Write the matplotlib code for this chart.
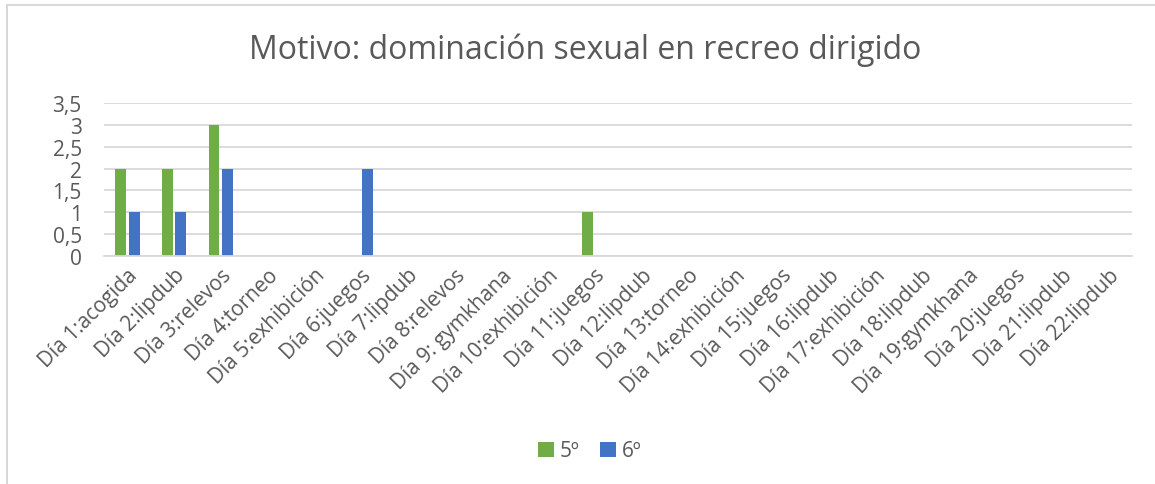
import numpy as np
import matplotlib.pyplot as plt
from matplotlib.patches import Rectangle

plt.rcParams['font.family'] = ['Open Sans', 'DejaVu Sans']

# Datos
dias = ["Día 1:acogida", "Día 2:lipdub", "Día 3:relevos", "Día 4:torneo",
        "Día 5:exhibición", "Día 6:juegos", "Día 7:lipdub", "Día 8:relevos",
        "Día 9: gymkhana", "Día 10:exhibición", "Día 11:juegos", "Día 12:lipdub",
        "Día 13:torneo", "Día 14:exhibición", "Día 15:juegos", "Día 16:lipdub",
        "Día 17:exhibición", "Día 18:lipdub", "Día 19:gymkhana", "Día 20:juegos",
        "Día 21:lipdub", "Día 22:lipdub"]
quinto = [2, 2, 3, 0, 0, 0, 0, 0, 0, 0, 1, 0, 0, 0, 0, 0, 0, 0, 0, 0, 0, 0]
sexto = [1, 1, 2, 0, 0, 2, 0, 0, 0, 0, 0, 0, 0, 0, 0, 0, 0, 0, 0, 0, 0, 0]
ticks_y = [0, 0.5, 1, 1.5, 2, 2.5, 3, 3.5]
etiquetas_y = ["0", "0,5", "1", "1,5", "2", "2,5", "3", "3,5"]

verde = '#70AD47'
azul = '#4472C4'
gris_texto = '#595959'

fig = plt.figure(figsize=(11.55, 4.85), dpi=100)
ax = fig.add_axes([104 / 1155, 1 - 257 / 485, (1132 - 104) / 1155, (257 - 104) / 485])

x = np.arange(len(dias))
ancho = 0.23
ax.bar(x - 0.145, quinto, ancho, color=verde, label="5º", zorder=2)
ax.bar(x + 0.145, sexto, ancho, color=azul, label="6º", zorder=2)

ax.set_xlim(-0.5, len(dias) - 0.5)
ax.set_ylim(0, 3.5)
ax.set_yticks(ticks_y)
ax.set_yticklabels(etiquetas_y)
ax.set_xticks(x)
ax.set_xticklabels(dias, rotation=45, ha='right', rotation_mode='anchor')
ax.tick_params(axis='both', length=0, labelsize=15, colors=gris_texto)
ax.tick_params(axis='x', pad=6)
ax.tick_params(axis='y', pad=16)
ax.grid(axis='y', color='#D9D9D9', linewidth=1.3, zorder=0)
for s in ['top', 'right', 'left']:
    ax.spines[s].set_visible(False)
ax.spines['bottom'].set_color('#D9D9D9')
ax.spines['bottom'].set_linewidth(1.3)

fig.text(585 / 1155, 1 - 50 / 485, "Motivo: dominación sexual en recreo dirigido",
         ha='center', va='center', fontsize=23, color=gris_texto)

fig.legend(loc='center', bbox_to_anchor=(590 / 1155, 1 - 452 / 485), ncol=2,
           frameon=False, fontsize=15, handlelength=0.75, handleheight=0.75,
           handletextpad=0.3, columnspacing=1.0, labelcolor=gris_texto)

# marco del gráfico
fig.patches.append(Rectangle((7 / 1155, -0.1), 1.2, 1 - 6 / 485 + 0.1,
                             transform=fig.transFigure, fill=False,
                             edgecolor='#D9D9D9', linewidth=1.5))

fig.savefig('out.png', dpi=100)
